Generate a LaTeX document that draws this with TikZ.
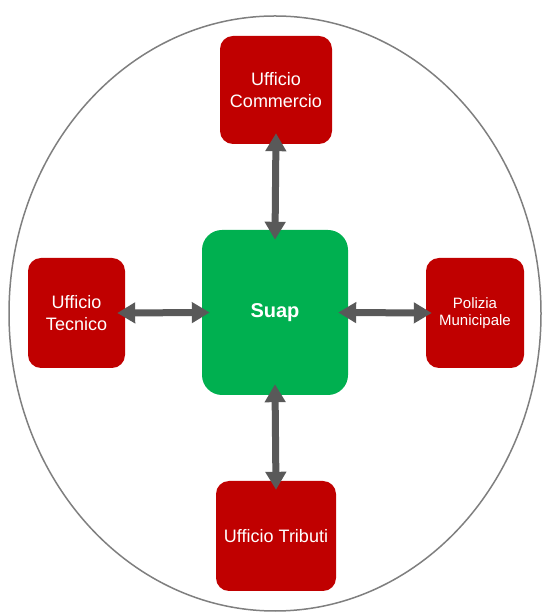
\documentclass[tikz,border=0pt]{standalone}
\usepackage{fontspec}
\setmainfont{Liberation Sans}
\usetikzlibrary{arrows.meta,shapes.geometric}
\definecolor{boxred}{HTML}{C00000}
\definecolor{boxgreen}{HTML}{00B050}
\definecolor{arrgray}{HTML}{595959}
\definecolor{ringgray}{HTML}{7F7F7F}
\begin{document}
\begin{tikzpicture}[x=1pt,y=1pt,
  office/.style={fill=boxred, draw=none, rounded corners=13pt, text=white, align=center, inner sep=0pt,
     font=\fontsize{18}{21.6}\selectfont},
  hub/.style={fill=boxgreen, draw=none, rounded corners=20pt, text=white, align=center, inner sep=0pt,
     font=\fontsize{20}{24}\selectfont\bfseries},
  link/.style={draw=arrgray, line width=7pt, {Triangle[length=18pt,width=20pt]}-{Triangle[length=18pt,width=20pt]}}]
\useasboundingbox (0,0) rectangle (544,613);
\node[draw=ringgray, line width=1.5pt, ellipse, minimum width=532pt, minimum height=595pt, inner sep=0pt] (ring) at (275,299.5) {};
\node[hub, minimum width=146pt, minimum height=165pt] (suap) at (275,300.5) {Suap};
\node[office, minimum width=112pt, minimum height=108pt] (comm) at (276,523) {Ufficio\\Commercio};
\node[office, minimum width=97pt, minimum height=110pt] (tecn) at (76.5,300) {Ufficio\\Tecnico};
\node[office, minimum width=98pt, minimum height=110pt, font=\fontsize{15}{17.5}\selectfont] (poli) at (475,300) {Polizia\\Municipale};
\node[office, minimum width=120pt, minimum height=110pt] (trib) at (276,77) {Ufficio Tributi};
\draw[link] ([yshift=11pt]comm.south) -- ([yshift=-10pt]suap.north);
\draw[link] ([yshift=11pt]suap.south) -- ([yshift=-9pt]trib.north);
\draw[link] ([xshift=-8pt]tecn.east) -- ([xshift=8pt]suap.west);
\draw[link] ([xshift=-10pt]suap.east) -- ([xshift=6pt]poli.west);
\end{tikzpicture}
\end{document}
